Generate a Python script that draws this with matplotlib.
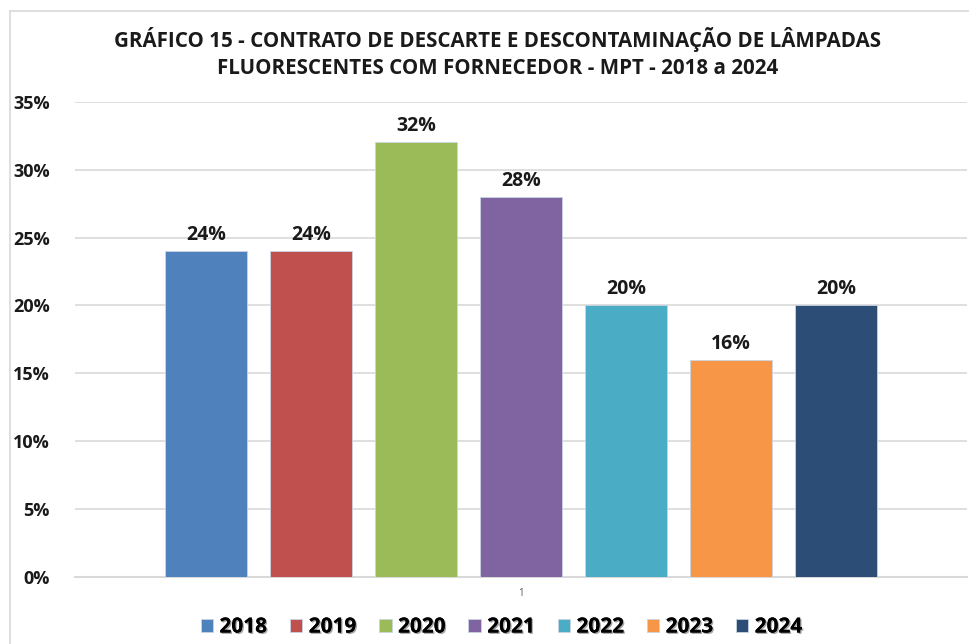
import numpy as np
import matplotlib.pyplot as plt
from matplotlib.ticker import FuncFormatter
import matplotlib.patheffects as pe

# Dados
anos = ['2018', '2019', '2020', '2021', '2022', '2023', '2024']
valores = [24, 24, 32, 28, 20, 16, 20]
cores = ['#4f81bd', '#c0504d', '#9bbb59', '#8064a2', '#4bacc6', '#f79646', '#2c4d75']
titulo = ('GRÁFICO 15 - CONTRATO DE DESCARTE E DESCONTAMINAÇÃO DE LÂMPADAS\n'
          'FLUORESCENTES COM FORNECEDOR - MPT - 2018 a 2024')

plt.rcParams['font.family'] = ['Open Sans', 'DejaVu Sans']

fig = plt.figure(figsize=(9.7, 6.44), dpi=100)
ax = fig.add_axes([0.0773, 0.104, 0.92, 0.738])

# borda cinza da área do gráfico
fig.add_artist(plt.Line2D([10/970, 1], [1 - 11/644, 1 - 11/644], transform=fig.transFigure,
                          color='#d9d9d9', lw=1.2))
fig.add_artist(plt.Line2D([10/970, 10/970], [0, 1 - 11/644], transform=fig.transFigure,
                          color='#d9d9d9', lw=1.2))

n = len(anos)
offsets = np.arange(n) - (n - 1) / 2
for off, ano, v, c in zip(offsets, anos, valores, cores):
    ax.bar(off, v, width=0.78, color=c, edgecolor='#c8d4e3', linewidth=0.6, label=ano, zorder=3)
    ax.text(off, v + 0.45, f'{v}%', ha='center', va='bottom', fontsize=14,
            fontweight='bold', color='#1a1a1a', zorder=4)

ax.set_xlim(-4.25, 4.25)
ax.set_ylim(0, 35)
ax.set_yticks(np.arange(0, 36, 5))
ax.yaxis.set_major_formatter(FuncFormatter(lambda y, _: f'{int(y)}%'))
ax.set_xticks([0])
ax.set_xticklabels(['1'], fontsize=7, color='#595959')
ax.tick_params(axis='x', length=0, pad=8)
ax.tick_params(axis='y', length=0, pad=18, labelsize=13)
for lbl in ax.get_yticklabels():
    lbl.set_fontweight('bold')
    lbl.set_color('#1a1a1a')

ax.grid(axis='y', color='#d9d9d9', linewidth=1.2, zorder=0)
for s in ['top', 'right', 'left']:
    ax.spines[s].set_visible(False)
ax.spines['bottom'].set_color('#d9d9d9')
ax.spines['bottom'].set_linewidth(1.5)

fig.text(0.513, 1 - 53/644, titulo, ha='center', va='center', fontsize=14.8,
         fontweight='bold', color='#1a1a1a', linespacing=1.35)

leg = fig.legend(loc='center', bbox_to_anchor=(0.517, 1 - 627/644), ncol=n, frameon=False,
                 handlelength=0.6, handleheight=0.6, handletextpad=0.3, columnspacing=1.1,
                 prop={'weight': 'bold', 'size': 15})
for t in leg.get_texts():
    t.set_path_effects([pe.withSimplePatchShadow(offset=(1, -1), alpha=0.35), pe.Normal()])

fig.savefig('out.png', dpi=100)
